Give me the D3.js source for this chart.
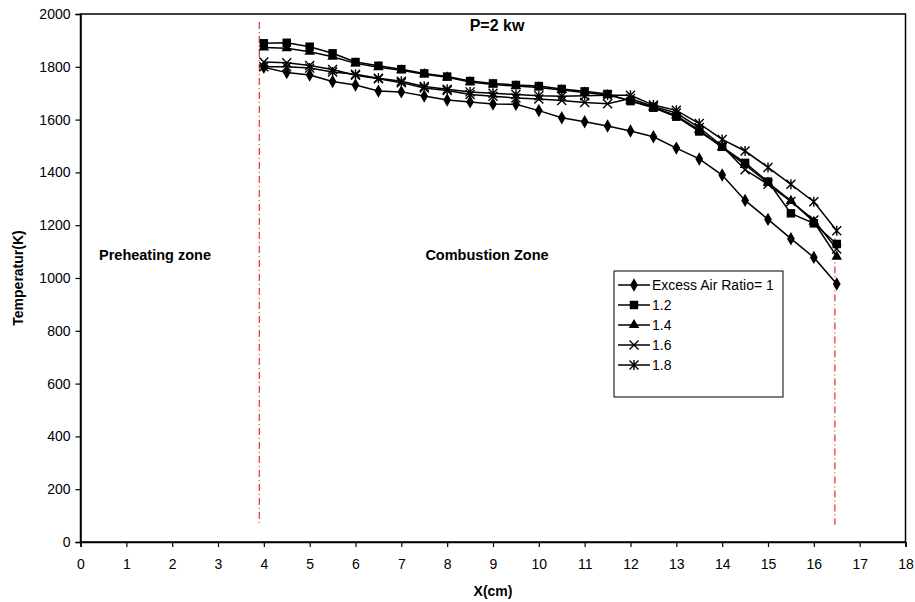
<!DOCTYPE html>
<html><head><meta charset="utf-8">
<script src="https://cdn.jsdelivr.net/npm/d3@7"></script>
<style>body{margin:0;background:#fff}svg{font-family:Arial,"Liberation Sans",sans-serif}</style>
</head><body><svg id="c" width="915" height="602"></svg>
<script>
const xValues = [4,4.5,5,5.5,6,6.5,7,7.5,8,8.5,9,9.5,10,10.5,11,11.5,12,12.5,13,13.5,14,14.5,15,15.5,16,16.5];
const ear1  = [1798,1778,1769,1744,1731,1708,1705,1689,1674,1667,1659,1658,1634,1607,1592,1576,1557,1535,1492,1451,1390,1294,1222,1149,1078,977];
const ear12 = [1889,1891,1876,1851,1818,1804,1791,1775,1763,1746,1737,1731,1727,1716,1707,1697,1670,1645,1611,1555,1497,1436,1365,1245,1207,1129];
const ear14 = [1873,1870,1857,1838,1813,1798,1787,1772,1760,1742,1733,1727,1722,1712,1703,1693,1672,1647,1615,1560,1495,1428,1361,1292,1213,1081];
const ear16 = [1818,1815,1805,1790,1768,1755,1740,1720,1710,1695,1688,1682,1678,1672,1665,1660,1680,1650,1625,1570,1500,1410,1355,1290,1220,1110];
const ear18 = [1800,1800,1795,1780,1772,1757,1745,1725,1715,1705,1700,1695,1690,1688,1690,1692,1692,1655,1635,1585,1525,1481,1419,1355,1289,1179];
const seriesNames = ["Excess Air Ratio= 1","1.2","1.4","1.6","1.8"];
const seriesMarkers = ["diamond","square","triangle","cross","asterisk"];
const xTicks = d3.range(0,19,1);
const yTicks = d3.range(0,2001,200);
const zoneLines = [3.9, 16.46];
const zoneTops = [1970, 1150];

const svg = d3.select("#c");
const m = {l:80.5, r:905.5, t:14, b:542};
const x = d3.scaleLinear().domain([0,18]).range([m.l,m.r]);
const y = d3.scaleLinear().domain([0,2000]).range([m.b,m.t]);

svg.append("rect").attr("x",m.l).attr("y",m.t).attr("width",m.r-m.l).attr("height",m.b-m.t)
  .attr("fill","none").attr("stroke","#000").attr("stroke-width",1.5);

const xa = svg.append("g").attr("transform",`translate(0,${m.b})`)
  .call(d3.axisBottom(x).tickValues(xTicks).tickSize(5).tickPadding(12).tickFormat(d3.format("d")));
const ya = svg.append("g").attr("transform",`translate(${m.l},0)`)
  .call(d3.axisLeft(y).tickValues(yTicks).tickSize(5).tickPadding(5).tickFormat(d3.format("d")));
[xa,ya].forEach(a=>{
  a.select(".domain").attr("stroke","#000").attr("stroke-width",1.5);
  a.selectAll(".tick line").attr("stroke","#000").attr("stroke-width",1.2);
  a.selectAll("text").attr("font-size",14).attr("fill","#000").attr("font-family","Arial,'Liberation Sans',sans-serif");
});

zoneLines.forEach((v,i)=>{
  svg.append("line").attr("x1",x(v)).attr("x2",x(v)).attr("y1",y(zoneTops[i])).attr("y2",y(65))
    .attr("stroke","#e00000").attr("stroke-width",1).attr("stroke-dasharray","7,3,1,3");
});

const line = d3.line().x((d,i)=>x(xValues[i])).y(d=>y(d));
const sym = {
  diamond: d3.symbol().type(d3.symbolDiamond).size(52)(),
  square: d3.symbol().type(d3.symbolSquare).size(72)(),
  triangle: d3.symbol().type(d3.symbolTriangle).size(48)(),
};
function drawMarker(g, type, cx, cy){
  if (sym[type]) {
    g.append("path").attr("d",sym[type]).attr("transform",`translate(${cx},${cy})`).attr("fill","#000");
  } else {
    const s=4.5;
    g.append("path").attr("d",`M${cx-s},${cy-s}L${cx+s},${cy+s}M${cx-s},${cy+s}L${cx+s},${cy-s}`+
      (type==="asterisk"?`M${cx},${cy-s-0.5}L${cx},${cy+s+0.5}`:""))
      .attr("stroke","#000").attr("stroke-width",1.4).attr("fill","none");
  }
}
const allSeries=[ear1,ear12,ear14,ear16,ear18];
allSeries.forEach((s,k)=>{
  svg.append("path").attr("d",line(s)).attr("fill","none").attr("stroke","#000").attr("stroke-width",1.5);
  const g=svg.append("g");
  s.forEach((v,i)=>drawMarker(g,seriesMarkers[k],x(xValues[i]),y(v)));
});

const bold = (t,xx,yy,fs,anchor="middle")=>svg.append("text").attr("x",xx).attr("y",yy).attr("text-anchor",anchor)
  .attr("font-weight","bold").attr("font-size",fs).attr("fill","#000").text(t);
bold("P=2 kw",497,31,16);
bold("Preheating zone",155,260,14.5);
bold("Combustion Zone",487,260,14.5);
bold("X(cm)",493,596,14);
svg.append("text").attr("transform","translate(23,278) rotate(-90)").attr("text-anchor","middle")
  .attr("font-weight","bold").attr("font-size",14).attr("fill","#000").text("Temperatur(K)");

const lg=svg.append("g");
lg.append("rect").attr("x",614).attr("y",271).attr("width",169).attr("height",126).attr("fill","#fff").attr("stroke","#000").attr("stroke-width",1);
seriesNames.forEach((n,i)=>{
  const ly=285+i*20;
  lg.append("line").attr("x1",618).attr("x2",650).attr("y1",ly).attr("y2",ly).attr("stroke","#000").attr("stroke-width",1.5);
  drawMarker(lg,seriesMarkers[i],634,ly);
  lg.append("text").attr("x",652).attr("y",ly+5).attr("font-size",14).attr("fill","#000").text(n);
});
</script></body></html>
